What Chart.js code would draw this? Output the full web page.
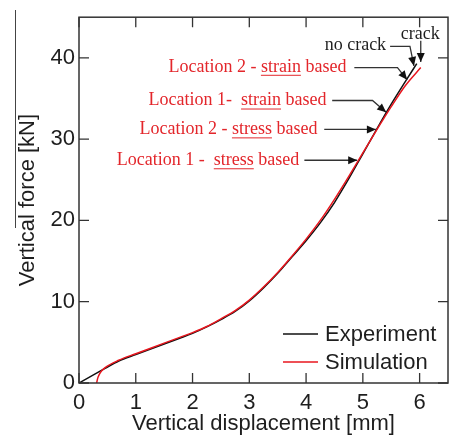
<!DOCTYPE html>
<html><head><meta charset="utf-8">
<script src="https://cdn.jsdelivr.net/npm/chart.js@4.4.1/dist/chart.umd.min.js"></script>
<style>html,body{margin:0;padding:0;background:#fff}#wrap{width:449px;height:443px;position:relative}</style>
</head><body><div id="wrap"><canvas id="c" width="449" height="443"></canvas></div>
<script>
// ---- data ----
const expX = [0, 0.46, 0.7, 1.0, 1.25, 1.5, 1.75, 2.0, 2.25, 2.5, 2.75, 3.0, 3.25, 3.5, 3.75, 4.0, 4.25, 4.5, 4.75, 5.0, 5.25, 5.5, 5.75, 5.95];
const expY = [0, 1.8, 2.7, 3.5, 4.15, 4.8, 5.45, 6.1, 6.9, 7.8, 8.8, 10.1, 11.7, 13.5, 15.5, 17.5, 19.7, 22.2, 25.1, 28.2, 31.3, 34.3, 37.1, 39.3];
const simX = [0.31, 0.33, 0.36, 0.40, 0.46, 0.7, 1.0, 1.25, 1.5, 1.75, 2.0, 2.25, 2.5, 2.75, 3.0, 3.25, 3.5, 3.75, 4.0, 4.25, 4.5, 4.75, 5.0, 5.25, 5.5, 5.75, 6.02];
const simY = [0, 0.6, 1.1, 1.5, 1.9, 2.8, 3.6, 4.25, 4.9, 5.55, 6.2, 6.95, 7.9, 8.9, 10.2, 11.8, 13.6, 15.6, 17.7, 20.0, 22.6, 25.4, 28.3, 31.2, 34.0, 36.6, 38.8];
const seriesNames = ["Experiment", "Simulation"];
const xTicks = [0, 1, 2, 3, 4, 5, 6];
const yTicks = [0, 10, 20, 30, 40];
const xTitle = "Vertical displacement [mm]";
const yTitle = "Vertical force [kN]";

// annotations (text anchors and arrow paths in data units)
const annText = ["Location 2 - strain based", "Location 1-  strain based", "Location 2 - stress based", "Location 1 -  stress based", "no crack", "crack"];
const annUnder = ["strain", "strain", "stress", "stress", "", ""];
const annTextX = [4.71, 4.36, 4.20, 3.88, 5.41, 6.01];
const annTextY = [38.9, 34.75, 31.2, 27.4, 41.5, 42.9];
const annAlign = ["right", "right", "right", "right", "right", "center"];
const annRed = [true, true, true, true, false, false];
const annPathX = [[4.85, 5.61, 5.78], [4.46, 5.17, 5.41], [4.32, 5.23], [3.97, 4.90], [5.48, 5.83, 5.90], [6.02, 6.02]];
const annPathY = [[38.8, 38.8, 37.3], [34.75, 34.75, 33.3], [31.2, 31.2], [27.4, 27.4], [41.4, 41.4, 39.0], [42.1, 39.5]];

const SANS = "'Liberation Sans', Arial, sans-serif";
const SERIF = "'Liberation Serif', 'Times New Roman', serif";
const RED = '#e8161e';
const TXTRED = '#e3262b';
const INK = '#1e1e1e';

const toPts = (xs, ys) => xs.map((x, i) => ({x: x, y: ys[i]}));

const decor = {
  id: 'decor',
  afterDraw(chart) {
    const ctx = chart.ctx, xs = chart.scales.x, ys = chart.scales.y, a = chart.chartArea;
    ctx.save();
    // frame
    ctx.strokeStyle = '#333'; ctx.lineWidth = 1.5;
    ctx.strokeRect(a.left, a.top, a.right - a.left, a.bottom - a.top);
    // inward ticks
    ctx.lineWidth = 1.3;
    const tl = 10;
    xTicks.forEach(v => {
      const p = xs.getPixelForValue(v);
      ctx.beginPath(); ctx.moveTo(p, a.bottom); ctx.lineTo(p, a.bottom - tl);
      ctx.moveTo(p, a.top); ctx.lineTo(p, a.top + tl); ctx.stroke();
    });
    yTicks.forEach(v => {
      const p = ys.getPixelForValue(v);
      ctx.beginPath(); ctx.moveTo(a.left, p); ctx.lineTo(a.left + tl, p);
      ctx.moveTo(a.right, p); ctx.lineTo(a.right - tl, p); ctx.stroke();
    });
    // stray vertical rule at far left (as in the source figure)
    ctx.lineWidth = 1; ctx.strokeStyle = '#444';
    ctx.beginPath(); ctx.moveTo(15.5, 10); ctx.lineTo(15.5, 228); ctx.stroke();

    // annotations
    annText.forEach((t, i) => {
      const tx = xs.getPixelForValue(annTextX[i]), ty = ys.getPixelForValue(annTextY[i]);
      ctx.font = '18px ' + SERIF;
      ctx.fillStyle = annRed[i] ? TXTRED : INK;
      ctx.textAlign = annAlign[i]; ctx.textBaseline = 'middle';
      ctx.fillText(t, tx, ty);
      if (annUnder[i]) {
        const full = ctx.measureText(t).width;
        const idx = t.indexOf(annUnder[i]);
        const pre = ctx.measureText(t.slice(0, idx)).width;
        const w = ctx.measureText(annUnder[i]).width;
        const x0 = tx - full + pre;
        ctx.strokeStyle = TXTRED; ctx.lineWidth = 1;
        ctx.beginPath(); ctx.moveTo(x0, ty + 8.5); ctx.lineTo(x0 + w, ty + 8.5); ctx.stroke();
      }
      // arrow
      const px = annPathX[i].map(v => xs.getPixelForValue(v));
      const py = annPathY[i].map(v => ys.getPixelForValue(v));
      ctx.strokeStyle = '#333'; ctx.lineWidth = 1.3;
      ctx.beginPath(); ctx.moveTo(px[0], py[0]);
      for (let k = 1; k < px.length; k++) ctx.lineTo(px[k], py[k]);
      ctx.stroke();
      const n = px.length;
      const ang = Math.atan2(py[n - 1] - py[n - 2], px[n - 1] - px[n - 2]);
      const L = 9, W = 4;
      ctx.fillStyle = '#111';
      ctx.beginPath();
      ctx.moveTo(px[n - 1], py[n - 1]);
      ctx.lineTo(px[n - 1] - L * Math.cos(ang) + W * Math.sin(ang), py[n - 1] - L * Math.sin(ang) - W * Math.cos(ang));
      ctx.lineTo(px[n - 1] - L * Math.cos(ang) - W * Math.sin(ang), py[n - 1] - L * Math.sin(ang) + W * Math.cos(ang));
      ctx.closePath(); ctx.fill();
    });

    // legend
    const ds = chart.data.datasets;
    ctx.font = '22px ' + SANS; ctx.textAlign = 'left'; ctx.textBaseline = 'middle';
    ds.forEach((d, i) => {
      const y = a.bottom - 49 + i * 28;
      ctx.strokeStyle = d.borderColor; ctx.lineWidth = 1.5;
      ctx.beginPath(); ctx.moveTo(a.right - 165, y); ctx.lineTo(a.right - 130, y); ctx.stroke();
      ctx.fillStyle = INK;
      ctx.fillText(d.label, a.right - 123, y + 1);
    });
    ctx.restore();
  }
};

new Chart(document.getElementById('c'), {
  type: 'scatter',
  data: {
    datasets: [
      {label: seriesNames[0], data: toPts(expX, expY), showLine: true, borderColor: '#111', borderWidth: 1.5,
       pointRadius: 0, cubicInterpolationMode: 'monotone', order: 2},
      {label: seriesNames[1], data: toPts(simX, simY), showLine: true, borderColor: RED, borderWidth: 1.5,
       pointRadius: 0, cubicInterpolationMode: 'monotone', order: 1}
    ]
  },
  options: {
    responsive: false, animation: false,
    layout: {padding: {top: 14, right: 1, left: 0, bottom: 0}},
    plugins: {legend: {display: false}, tooltip: {enabled: false}},
    scales: {
      x: {
        type: 'linear', min: 0, max: 6.5,
        afterBuildTicks: s => { s.ticks = xTicks.map(v => ({value: v})); },
        afterFit: s => { s.height = 60; },
        ticks: {font: {family: SANS, size: 22}, color: INK, padding: 7},
        grid: {display: false, drawTicks: false}, border: {display: false},
        title: {display: true, text: xTitle, font: {family: SANS, size: 22}, color: INK, padding: {top: 0, bottom: 6}}
      },
      y: {
        type: 'linear', min: 0, max: 45,
        afterBuildTicks: s => { s.ticks = yTicks.map(v => ({value: v})); },
        afterFit: s => { s.width = 79; },
        ticks: {font: {family: SANS, size: 22}, color: INK, padding: 4},
        grid: {display: false, drawTicks: false}, border: {display: false},
        title: {display: true, text: yTitle, font: {family: SANS, size: 22}, color: INK, padding: {top: 15, bottom: 0}}
      }
    }
  },
  plugins: [decor]
});
</script></body></html>
